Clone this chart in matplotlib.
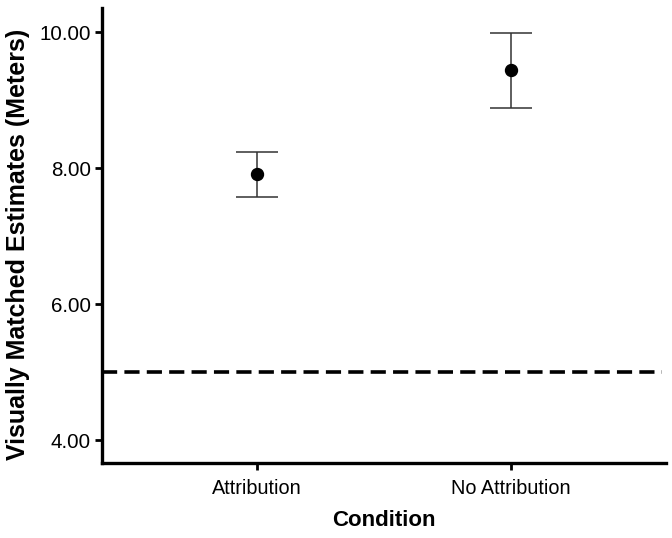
import numpy as np
import matplotlib.pyplot as plt

plt.rcParams['font.family'] = ['Liberation Sans', 'DejaVu Sans']

# --- data ---
conditions = ["Attribution", "No Attribution"]
means = [7.91, 9.44]
ci_upper = [8.23, 9.98]
ci_lower = [7.57, 8.89]
reference_line = 5.0
y_ticks = [4.0, 6.0, 8.0, 10.0]

fig = plt.figure(figsize=(6.72, 5.38), dpi=100)
ax = fig.add_axes([0.152, 0.139, 0.839, 0.846])

x = np.arange(len(conditions))
means_arr = np.array(means)
yerr = [means_arr - np.array(ci_lower), np.array(ci_upper) - means_arr]

ax.errorbar(x, means, yerr=yerr, fmt='o', color='black', ecolor='#333333',
            elinewidth=1.1, capsize=14.8, capthick=1.1, markersize=8.6, zorder=3)

ax.axhline(reference_line, color='black', linewidth=2.6,
           linestyle=(0, (4.2, 2.0)), xmax=0.993)

ax.set_xlim(-0.61, 1.61)
ax.set_ylim(3.662, 10.353)
ax.set_xticks(x)
ax.set_xticklabels(conditions)
ax.set_yticks(y_ticks)
ax.set_yticklabels([f"{v:.2f}" for v in y_ticks])

for side in ['top', 'right']:
    ax.spines[side].set_visible(False)
for side in ['left', 'bottom']:
    ax.spines[side].set_linewidth(2.4)

ax.tick_params(axis='both', length=5, width=2, colors='black')
ax.tick_params(axis='y', labelsize=14.8, pad=3)
ax.tick_params(axis='x', labelsize=14.3, pad=6.5)

ax.set_xlabel("Condition", fontsize=16, fontweight='bold')
ax.set_ylabel("Visually Matched Estimates (Meters)", fontsize=18, fontweight='bold')
ax.xaxis.set_label_coords(0.5, -0.125)
ax.yaxis.set_label_coords(-0.149, 0.481)
ax.xaxis.label.set_va('center')
ax.yaxis.label.set_va('center')

fig.savefig("out.png", dpi=100)
